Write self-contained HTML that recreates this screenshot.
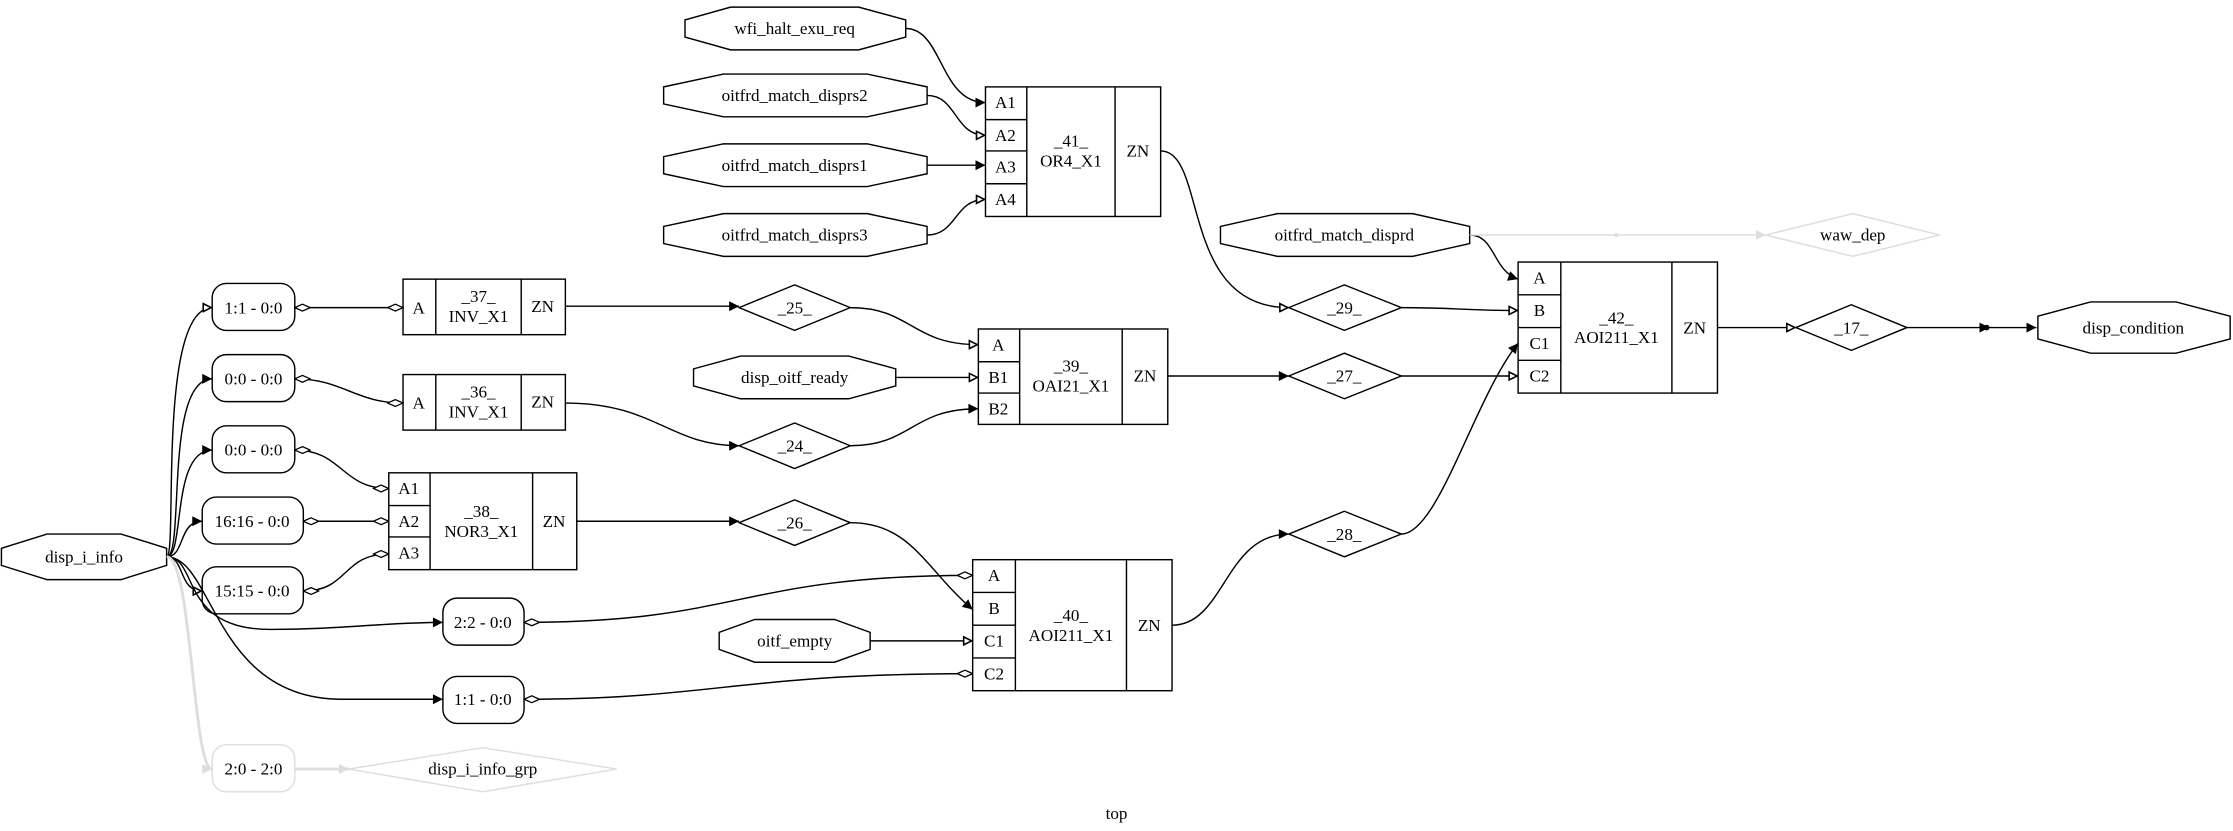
<!DOCTYPE html>
<html><head><meta charset="utf-8"><style>
html,body{margin:0;padding:0;background:#fff;}
svg{display:block;}
svg text{font-family:"Liberation Serif","Times New Roman",serif !important;font-size:12px;fill:#000;}
</style></head><body>
<svg width="2233" height="831" viewBox="0 0 1568 583.5" xmlns="http://www.w3.org/2000/svg" font-family="Liberation Serif, serif">
<defs>
<marker id="f" viewBox="0 0 10 10" refX="10" refY="5" markerWidth="9" markerHeight="7" markerUnits="userSpaceOnUse" orient="auto"><path d="M0,0L10,5L0,10z" fill="#000"/></marker>
<marker id="o" viewBox="0 0 10 10" refX="10" refY="5" markerWidth="9" markerHeight="7" markerUnits="userSpaceOnUse" orient="auto"><path d="M1,1L9,5L1,9z" fill="#fff" stroke="#000" stroke-width="1.6"/></marker>
<marker id="d" viewBox="0 0 20 10" refX="19" refY="5" markerWidth="12" markerHeight="6" markerUnits="userSpaceOnUse" orient="auto"><path d="M1,5L10,1L19,5L10,9z" fill="#fff" stroke="#000" stroke-width="1.5"/></marker>
<marker id="ds" viewBox="0 0 20 10" refX="1" refY="5" markerWidth="12" markerHeight="6" markerUnits="userSpaceOnUse" orient="auto"><path d="M1,5L10,1L19,5L10,9z" fill="#fff" stroke="#000" stroke-width="1.5"/></marker>
<marker id="gf" viewBox="0 0 10 10" refX="10" refY="5" markerWidth="9" markerHeight="7" markerUnits="userSpaceOnUse" orient="auto"><path d="M0,0L10,5L0,10z" fill="#ddd"/></marker>
</defs>
<g fill="#fff" stroke="#000" stroke-width="1">
<polygon points="636,14 636,26 603,35 513,35 481,26 481,14 513,5 603,5"/>
<polygon points="651,61 651,73 609,82 508,82 466,73 466,61 508,52 609,52"/>
<polygon points="651,110 651,122 609,131 508,131 466,122 466,110 508,101 609,101"/>
<polygon points="651,159 651,171 609,180 508,180 466,171 466,159 508,150 609,150"/>
<polygon points="1032,159 1032,171 992,180 897,180 857,171 857,159 897,150 992,150"/>
<polygon points="629,259 629,271 596,280 520,280 487,271 487,259 520,250 596,250"/>
<polygon points="611,444 611,456 586,465 530,465 505,456 505,444 530,435 586,435"/>
<polygon points="117,385 117,397 85,407 33,407 1,397 1,385 33,375 85,375"/>
<polygon points="1566,222 1566,238 1528,248 1468,248 1431,238 1431,222 1468,212 1528,212"/>
<polygon points="519,216 558,200 597,216 558,232"/>
<polygon points="519,313 558,297 597,313 558,329"/>
<polygon points="519,367 558,351 597,367 558,383"/>
<polygon points="905,216 944,200 984,216 944,232"/>
<polygon points="905,264 944,248 984,264 944,280"/>
<polygon points="905,375 944,359 984,375 944,391"/>
<polygon points="1261,230 1300,214 1339,230 1300,246"/>
<rect x="149" y="199" width="58" height="33" rx="10"/>
<rect x="149" y="249" width="58" height="33" rx="10"/>
<rect x="149" y="299" width="58" height="33" rx="10"/>
<rect x="142" y="349" width="71" height="33" rx="10"/>
<rect x="142" y="398" width="71" height="33" rx="10"/>
<rect x="311" y="420" width="57" height="33" rx="10"/>
<rect x="311" y="475" width="57" height="33" rx="10"/>
<rect x="692" y="61" width="123" height="91"/>
<path d="M721,61V152M783,61V152M692,84H721M692,106H721M692,129H721"/>
<rect x="1066" y="184" width="140" height="92"/>
<path d="M1096,184V276M1174,184V276M1066,207H1096M1066,230H1096M1066,253H1096"/>
<rect x="283" y="196" width="114" height="39"/>
<path d="M306,196V235M366,196V235"/>
<rect x="283" y="263" width="114" height="39"/>
<path d="M306,263V302M366,263V302"/>
<rect x="273" y="332" width="132" height="68"/>
<path d="M302,332V400M374,332V400M273,355H302M273,377H302"/>
<rect x="687" y="231" width="133" height="67"/>
<path d="M716,231V298M788,231V298M687,254H716M687,276H716"/>
<rect x="683" y="393" width="140" height="92"/>
<path d="M713,393V485M791,393V485M683,416H713M683,439H713M683,462H713"/>
</g>
<g fill="#fff" stroke="#ddd">
<polygon points="1240,165 1301,150 1362,165 1301,180"/>
<rect x="149" y="523" width="58" height="33" rx="10"/>
<polygon points="245,540 339,525 433,540 339,556"/>
</g>
<g fill="none" stroke="#000" stroke-width="1">
<path d="M636,20C662,20 660,72 692,72" marker-end="url(#f)"/>
<path d="M651,67C672,67 670,95 692,95" marker-end="url(#o)"/>
<path d="M651,116H692" marker-end="url(#f)"/>
<path d="M651,165C672,165 670,140 692,140" marker-end="url(#o)"/>
<path d="M815,106C848,106 828,216 905,216" marker-end="url(#o)"/>
<path d="M1032,165C1050,165 1048,190 1066,196" marker-end="url(#f)"/>
<path d="M984,216C1020,216 1030,218 1066,218" marker-end="url(#o)"/>
<path d="M984,264C1020,264 1030,264 1066,264" marker-end="url(#o)"/>
<path d="M984,375C1010,375 1035,280 1066,241" marker-end="url(#f)"/>
<path d="M1206,230H1261" marker-end="url(#o)"/>
<path d="M1339,230H1397" marker-end="url(#f)"/>
<path d="M1397,230H1430" marker-end="url(#f)"/>
<path d="M397,215H519" marker-end="url(#f)"/>
<path d="M597,216C640,216 640,242 687,242" marker-end="url(#o)"/>
<path d="M629,265H687" marker-end="url(#o)"/>
<path d="M397,283C460,283 470,313 519,313" marker-end="url(#f)"/>
<path d="M597,313C640,313 640,287 687,287" marker-end="url(#f)"/>
<path d="M820,264H905" marker-end="url(#f)"/>
<path d="M405,366H519" marker-end="url(#f)"/>
<path d="M597,367C640,367 650,400 683,428" marker-end="url(#f)"/>
<path d="M611,450H683" marker-end="url(#o)"/>
<path d="M823,439C860,439 860,375 905,375" marker-end="url(#f)"/>
<path d="M207,216H283" marker-start="url(#ds)" marker-end="url(#d)"/>
<path d="M207,266C240,266 250,283 283,283" marker-start="url(#ds)" marker-end="url(#d)"/>
<path d="M207,316C240,316 240,343 273,343" marker-start="url(#ds)" marker-end="url(#d)"/>
<path d="M213,366H273" marker-start="url(#ds)" marker-end="url(#d)"/>
<path d="M213,415C245,415 240,389 273,389" marker-start="url(#ds)" marker-end="url(#d)"/>
<path d="M368,437C520,437 520,404 683,404" marker-start="url(#ds)" marker-end="url(#d)"/>
<path d="M368,491C500,491 520,473 683,473" marker-start="url(#ds)" marker-end="url(#d)"/>
<path d="M117,391C125,391 110,216 149,216" marker-end="url(#o)"/>
<path d="M117,391C130,391 115,266 149,266" marker-end="url(#f)"/>
<path d="M117,391C130,391 120,316 149,316" marker-end="url(#f)"/>
<path d="M117,391C130,391 125,366 142,366" marker-end="url(#f)"/>
<path d="M117,391C130,391 125,415 142,415" marker-end="url(#o)"/>
<path d="M117,391C140,391 125,442 190,442 C240,442 270,437 311,437" marker-end="url(#f)"/>
<path d="M117,391C150,391 150,491 240,491 L311,491" marker-end="url(#f)"/>
</g>
<g fill="none" stroke="#ddd">
<path d="M1032,165H1240" marker-end="url(#gf)"/>
<path d="M117,391C135,391 135,540 149,540" stroke-width="2" marker-end="url(#gf)"/>
<path d="M207,540H245" stroke-width="2" marker-end="url(#gf)"/>
</g>
<circle cx="1395" cy="230" r="2" fill="#000"/>
<circle cx="1135" cy="165" r="1.5" fill="#ddd"/>
<g text-anchor="middle" font-family="Liberation Serif, serif" font-size="12">
<text x="558" y="24">wfi_halt_exu_req</text>
<text x="558" y="71">oitfrd_match_disprs2</text>
<text x="558" y="120">oitfrd_match_disprs1</text>
<text x="558" y="169">oitfrd_match_disprs3</text>
<text x="944" y="169">oitfrd_match_disprd</text>
<text x="558" y="269">disp_oitf_ready</text>
<text x="558" y="454">oitf_empty</text>
<text x="59" y="395">disp_i_info</text>
<text x="1498" y="234">disp_condition</text>
<text x="558" y="220">_25_</text>
<text x="558" y="317">_24_</text>
<text x="558" y="371">_26_</text>
<text x="944" y="220">_29_</text>
<text x="944" y="268">_27_</text>
<text x="944" y="379">_28_</text>
<text x="1300" y="234">_17_</text>
<text x="178" y="220">1:1 - 0:0</text>
<text x="178" y="270">0:0 - 0:0</text>
<text x="178" y="320">0:0 - 0:0</text>
<text x="177" y="370">16:16 - 0:0</text>
<text x="177" y="419">15:15 - 0:0</text>
<text x="339" y="441">2:2 - 0:0</text>
<text x="339" y="495">1:1 - 0:0</text>
<text x="706" y="76">A1</text><text x="706" y="99">A2</text><text x="706" y="121">A3</text><text x="706" y="144">A4</text>
<text x="752" y="103">_41_</text><text x="752" y="117">OR4_X1</text><text x="799" y="110">ZN</text>
<text x="1081" y="199">A</text><text x="1081" y="222">B</text><text x="1081" y="245">C1</text><text x="1081" y="268">C2</text>
<text x="1135" y="227">_42_</text><text x="1135" y="241">AOI211_X1</text><text x="1190" y="234">ZN</text>
<text x="294" y="220">A</text><text x="336" y="212">_37_</text><text x="336" y="226">INV_X1</text><text x="381" y="219">ZN</text>
<text x="294" y="287">A</text><text x="336" y="279">_36_</text><text x="336" y="293">INV_X1</text><text x="381" y="286">ZN</text>
<text x="287" y="347">A1</text><text x="287" y="370">A2</text><text x="287" y="392">A3</text>
<text x="338" y="363">_38_</text><text x="338" y="377">NOR3_X1</text><text x="389" y="370">ZN</text>
<text x="701" y="246">A</text><text x="701" y="269">B1</text><text x="701" y="291">B2</text>
<text x="752" y="261">_39_</text><text x="752" y="275">OAI21_X1</text><text x="804" y="268">ZN</text>
<text x="698" y="408">A</text><text x="698" y="431">B</text><text x="698" y="454">C1</text><text x="698" y="477">C2</text>
<text x="752" y="436">_40_</text><text x="752" y="450">AOI211_X1</text><text x="807" y="443">ZN</text>
<text x="784" y="575">top</text>
<text x="1301" y="169">waw_dep</text>
<text x="178" y="544">2:0 - 2:0</text>
<text x="339" y="544">disp_i_info_grp</text>
</g>
</svg>
</body></html>
